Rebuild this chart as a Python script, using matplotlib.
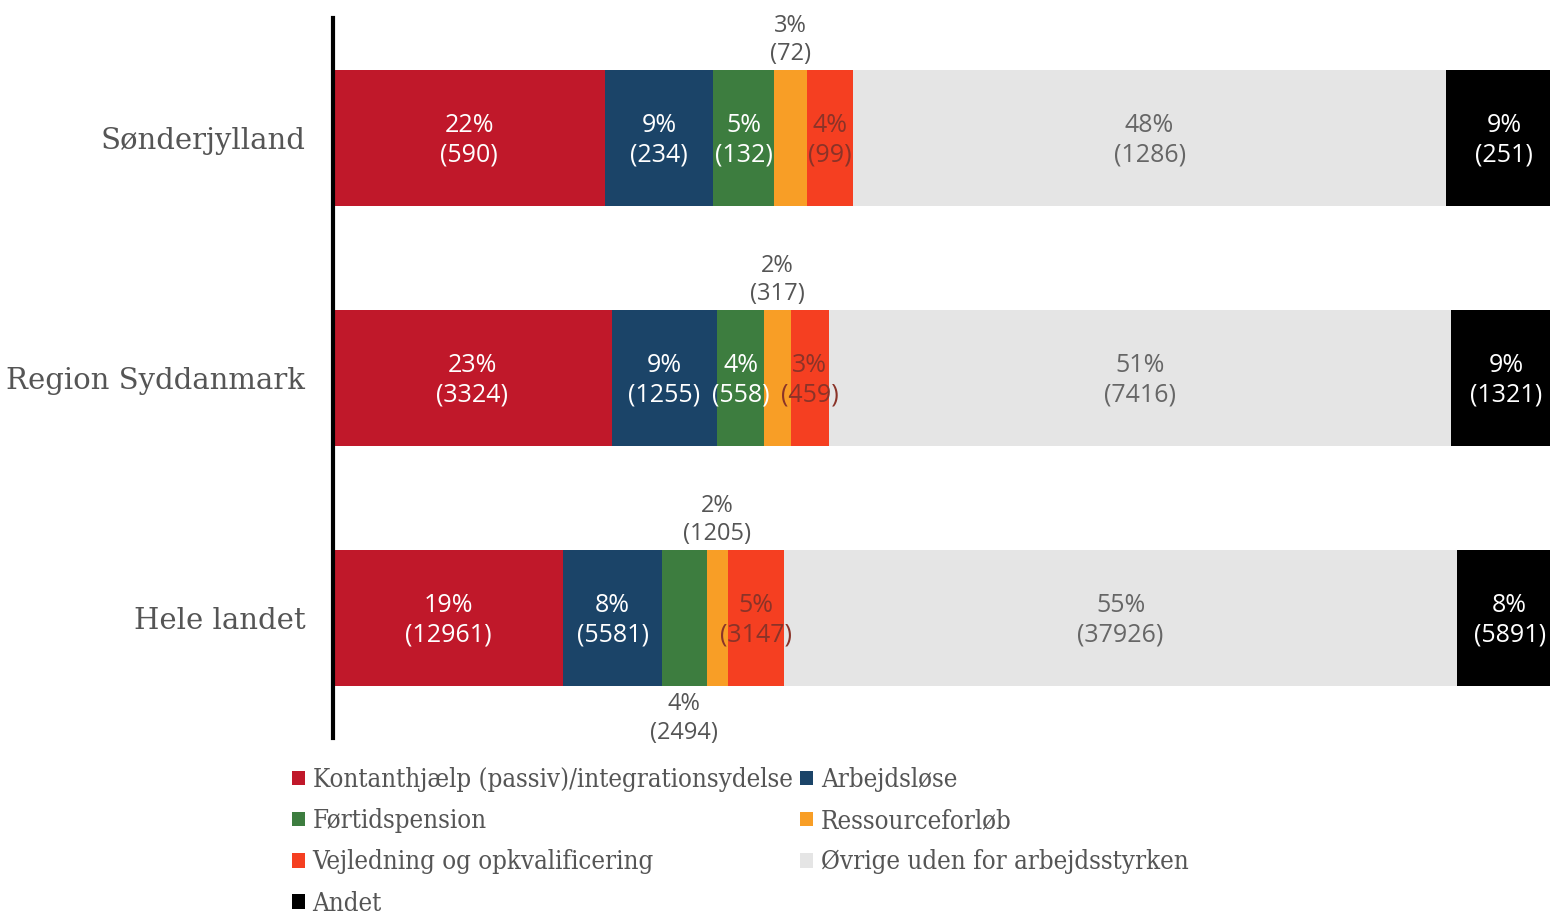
import numpy as np
import matplotlib
matplotlib.use("Agg")
import matplotlib.pyplot as plt

# data
regions = ["Sønderjylland", "Region Syddanmark", "Hele landet"]
categories = ["Kontanthjælp (passiv)/integrationsydelse", "Arbejdsløse", "Førtidspension",
              "Ressourceforløb", "Vejledning og opkvalificering",
              "Øvrige uden for arbejdsstyrken", "Andet"]
counts = [
    [590, 234, 132, 72, 99, 1286, 251],
    [3324, 1255, 558, 317, 459, 7416, 1321],
    [12961, 5581, 2494, 1205, 3147, 37926, 5891],
]
pct_labels = [
    [22, 9, 5, 3, 4, 48, 9],
    [23, 9, 4, 2, 3, 51, 9],
    [19, 8, 4, 2, 5, 55, 8],
]
colors = ["#C0182A", "#1B4468", "#3D7D3F", "#F89E26", "#F53F21", "#E5E5E5", "#000000"]
text_colors = ["white", "white", "white", "#555555", "#8a3328", "#666666", "white"]

# where the label goes: 0 = inside, 1 = above bar, -1 = below bar
label_pos = [
    [0, 0, 0, 1, 0, 0, 0],
    [0, 0, 0, 1, 0, 0, 0],
    [0, 0, -1, 1, 0, 0, 0],
]

label_font = "Open Sans"
serif_font = ["DejaVu Serif"]

fig = plt.figure(figsize=(15.5, 9.15), dpi=100)
# the plot runs a little past the right edge of the picture, as in the original
ax = fig.add_axes([333 / 1550, 1 - 738 / 915, (1562 - 333) / 1550, 720 / 915])

counts = np.array(counts, dtype=float)
totals = counts.sum(axis=1)
y = np.arange(len(regions))
bar_h = 0.57

left = np.zeros(len(regions))
handles = []
for j, cat in enumerate(categories):
    widths = counts[:, j] / totals
    bars = ax.barh(y, widths, left=left, height=bar_h, color=colors[j], label=cat)
    handles.append(bars)
    for i in range(len(regions)):
        xc = left[i] + widths[i] / 2
        txt = f"{pct_labels[i][j]}%\n({int(counts[i, j])})"
        pos = label_pos[i][j]
        if pos == 0:
            ax.text(xc, y[i] + 0.01, txt, ha="center", va="center", color=text_colors[j],
                    fontsize=18, family=label_font, linespacing=1.25)
        elif pos == 1:
            ax.text(xc, y[i] - bar_h / 2 - 0.015, txt, ha="center", va="bottom",
                    color="#555555", fontsize=17, family=label_font, linespacing=1.25)
        else:
            ax.text(xc, y[i] + bar_h / 2 + 0.025, txt, ha="center", va="top",
                    color="#555555", fontsize=17, family=label_font, linespacing=1.25)
    left += widths

ax.set_xlim(0, 1)
ax.set_ylim(2.5, -0.5)
ax.set_yticks(y)
ax.set_yticklabels(regions, fontsize=21, color="#555555", family=serif_font)
ax.tick_params(axis="y", length=0, pad=20)
ax.set_xticks([])
for s in ["top", "right", "bottom"]:
    ax.spines[s].set_visible(False)
ax.spines["left"].set_linewidth(3)
ax.spines["left"].set_color("black")

# legend filled row by row
order = [0, 2, 4, 6, 1, 3, 5]
leg = fig.legend([handles[k] for k in order], [categories[k] for k in order],
                 loc="upper left", bbox_to_anchor=(292 / 1550, 1 - 767 / 915),
                 ncol=2, frameon=False, handlelength=0.5, handleheight=0.5,
                 handletextpad=0.3, columnspacing=0.3, labelspacing=0.63,
                 prop={"family": serif_font, "size": 18.5, "stretch": "condensed"},
                 labelcolor="#555555", borderaxespad=0, borderpad=0)

fig.savefig("out.png", dpi=100)
